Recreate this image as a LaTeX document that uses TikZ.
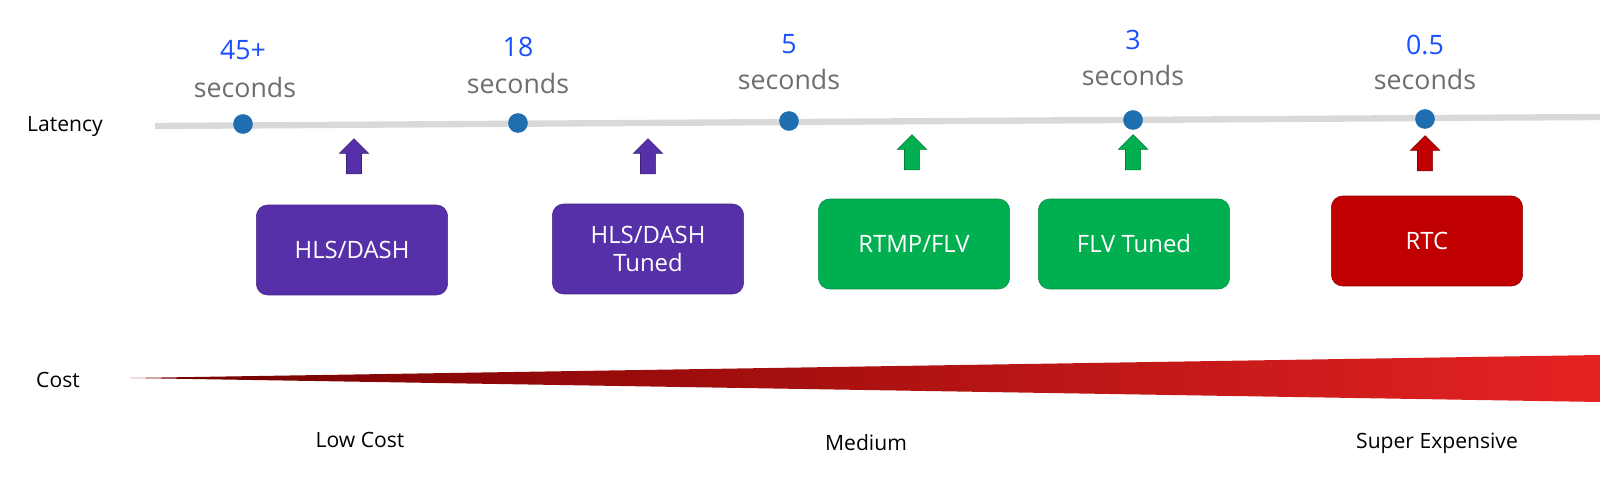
\documentclass[tikz,border=0pt]{standalone}
\usepackage{fontspec}
\setmainfont{Open Sans}
\usetikzlibrary{shapes.arrows}
\definecolor{dotblue}{HTML}{1F6FB0}
\definecolor{numblue}{HTML}{1A4FFF}
\definecolor{secgray}{HTML}{6E6E6E}
\definecolor{hlspurple}{HTML}{5530A8}
\definecolor{flvgreen}{HTML}{00B050}
\definecolor{rtcred}{HTML}{C00000}
\tikzset{
	num/.style={text=numblue, font=\fontsize{19}{20}\selectfont},
	sec/.style={text=secgray, font=\fontsize{19}{20}\selectfont},
	dot/.style={circle, fill=dotblue, inner sep=0pt, minimum size=14pt},
	proto/.style={rounded corners=8pt, minimum width=136pt, minimum height=64pt, text=white, align=center, font=\fontsize{17}{20}\selectfont, draw=#1!80!black, fill=#1},
	up/.style={single arrow, shape border rotate=90, draw=#1!70!black, fill=#1, single arrow head extend=5pt, minimum width=21pt, minimum height=25pt, inner xsep=5pt, inner ysep=0pt, single arrow tip angle=90},
	lbl/.style={font=\fontsize{15}{18}\selectfont}
}
\begin{document}
\begin{tikzpicture}[x=0.025cm, y=-0.025cm]
	% latency axis
	\node [lbl] (lat) at (65,127) {Latency};
	\draw [line width=4.5pt, gray!30] (155,126) -- (1600,117);
	\node [dot] (d1) at (243,124) {};
	\node [dot] (d2) at (518,123) {};
	\node [dot] (d3) at (789,121) {};
	\node [dot] (d4) at (1133,120) {};
	\node [dot] (d5) at (1425,119) {};
	\node [num] at (243,50) {45+};\node [sec] at (245,87) {seconds};
	\node [num] at (518,47) {18};\node [sec] at (518,83) {seconds};
	\node [num] at (789,44) {5};\node [sec] at (789,79) {seconds};
	\node [num] at (1133,40) {3};\node [sec] at (1133,75) {seconds};
	\node [num] at (1425,45) {0.5};\node [sec] at (1425,79) {seconds};
	% arrows
	\node [up=hlspurple] (a1) at (354,160) {};
	\node [up=hlspurple] (a2) at (648,160) {};
	\node [up=flvgreen] (a3) at (912,156) {};
	\node [up=flvgreen] (a4) at (1133,156) {};
	\node [up=rtcred] (a5) at (1425,157) {};
	% protocols
	\node [proto=hlspurple] (hls) at (352,250) {HLS/DASH};
	\node [proto=hlspurple] (hlst) at (648,249) {HLS/DASH\\Tuned};
	\node [proto=flvgreen] (rtmp) at (914,244) {RTMP/FLV};
	\node [proto=flvgreen] (flvt) at (1134,244) {FLV Tuned};
	\node [proto=rtcred] (rtc) at (1427,241) {RTC};
	% cost
	\node [lbl] (cost) at (58,380) {Cost};
	\shade [left color=red!45!black, right color=red!85!white!90!black] (130,378) -- (1600,355) -- (1600,402) -- cycle;
	\node [lbl] (low) at (360,440) {Low Cost};
	\node [lbl] (med) at (866,443) {Medium};
	\node [lbl] (sup) at (1437,443) {Super Expensive};
	\pgfresetboundingbox
	\useasboundingbox (0,0) rectangle (1600,492);
\end{tikzpicture}
\end{document}
